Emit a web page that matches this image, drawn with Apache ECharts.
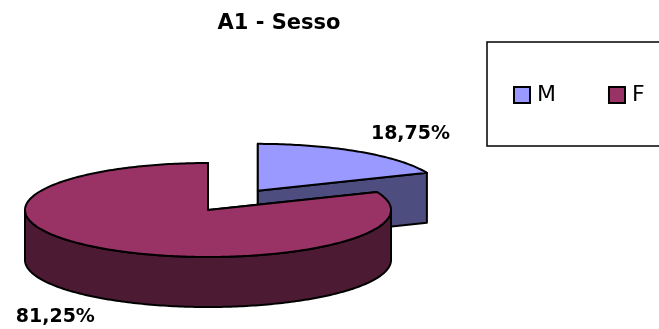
<!DOCTYPE html>
<html>
<head>
<meta charset="utf-8">
<script src="https://cdn.jsdelivr.net/npm/echarts@6/dist/echarts.min.js"></script>
<style>html,body{margin:0;padding:0;background:#fff;}#chart{width:659px;height:329px;}</style>
</head>
<body>
<div id="chart"></div>
<script>
const titleText = 'A1 - Sesso';
const categories = ['M', 'F'];
const values = [18.75, 81.25];
const topColors = ['#9999FF', '#993366'];
const sideColors = ['#4D4D80', '#4D1A33'];

// layout of the pseudo-3D pie
const CX = 208, CY = 210, RX = 183, RY = 47, DEPTH = 50;
const EXPLODE = [0.49, 0];
const FONT = '"DejaVu Sans", Verdana, sans-serif';

const total = values.reduce((a, b) => a + b, 0);
const rad = d => d * Math.PI / 180;

function makeRender(i) {
  return function (params, api) {
    const v = api.value(0);
    let before = 0;
    for (let k = 0; k < i; k++) before += values[k];
    const a0 = before / total * 360;
    const a1 = a0 + v / total * 360;
    const mid = (a0 + a1) / 2;
    const ox = EXPLODE[i] * RX * Math.sin(rad(mid));
    const oy = -EXPLODE[i] * RY * Math.cos(rad(mid));
    const P = (a, dz) => [CX + ox + RX * Math.sin(rad(a)), CY + oy - RY * Math.cos(rad(a)) + (dz || 0)];
    const apex = [CX + ox, CY + oy];
    const apexB = [CX + ox, CY + oy + DEPTH];
    const stroke = { stroke: '#000', lineWidth: 2, lineJoin: 'round' };
    const children = [];
    [a0, a1].forEach(a => {
      children.push({ type: 'polygon', shape: { points: [apex, P(a), P(a, DEPTH), apexB] },
        style: Object.assign({ fill: sideColors[i] }, stroke) });
    });
    const s = Math.max(a0, 90), e = Math.min(a1, 270);
    if (e > s) {
      const pts = [];
      for (let a = s; a <= e; a += 1) pts.push(P(a));
      pts.push(P(e));
      const back = [];
      for (let a = e; a >= s; a -= 1) back.push(P(a, DEPTH));
      back.push(P(s, DEPTH));
      children.push({ type: 'polygon', shape: { points: pts.concat(back) },
        style: Object.assign({ fill: sideColors[i] }, stroke) });
    }
    const topPts = [apex];
    for (let a = a0; a <= a1; a += 1) topPts.push(P(a));
    topPts.push(P(a1));
    children.push({ type: 'polygon', shape: { points: topPts },
      style: Object.assign({ fill: topColors[i] }, stroke) });
    const sx = Math.sin(rad(mid)), sy = -Math.cos(rad(mid));
    const front = sy > 0;
    const lp = P(mid, front ? DEPTH : 0);
    const txt = (v / total * 100).toFixed(2).replace('.', ',') + '%';
    children.push({ type: 'text', x: lp[0] + Math.sign(sx) * 51, y: lp[1] + Math.sign(sy) * 18,
      style: { text: txt, fill: '#000', font: 'bold 19px ' + FONT,
        align: 'center', verticalAlign: 'middle', textAlign: 'center', textVerticalAlign: 'middle' } });
    return { type: 'group', children: children };
  };
}

const chart = echarts.init(document.getElementById('chart'), null, { renderer: 'canvas' });
chart.setOption({
  backgroundColor: '#fff',
  animation: false,
  title: {
    text: titleText, left: 279, top: 13, padding: 0, textAlign: 'center',
    textStyle: { fontFamily: FONT, fontWeight: 'bold', fontSize: 21, color: '#000' }
  },
  legend: {
    data: categories, orient: 'horizontal', left: 487, top: 42, width: 400,
    padding: [42, 200, 40, 26],
    icon: 'rect', itemWidth: 16, itemHeight: 16, itemGap: 52, selectedMode: false,
    borderColor: '#000', borderWidth: 1.5,
    itemStyle: { borderColor: '#000', borderWidth: 2 },
    textStyle: { fontFamily: FONT, fontSize: 22, color: '#000', padding: [0, 0, 0, 2] }
  },
  series: categories.map((c, i) => ({
    type: 'custom', name: c, coordinateSystem: 'none',
    itemStyle: { color: topColors[i] },
    renderItem: makeRender(i),
    data: [[values[i]]],
    z: 2 + i
  }))
});
</script>
</body>
</html>
